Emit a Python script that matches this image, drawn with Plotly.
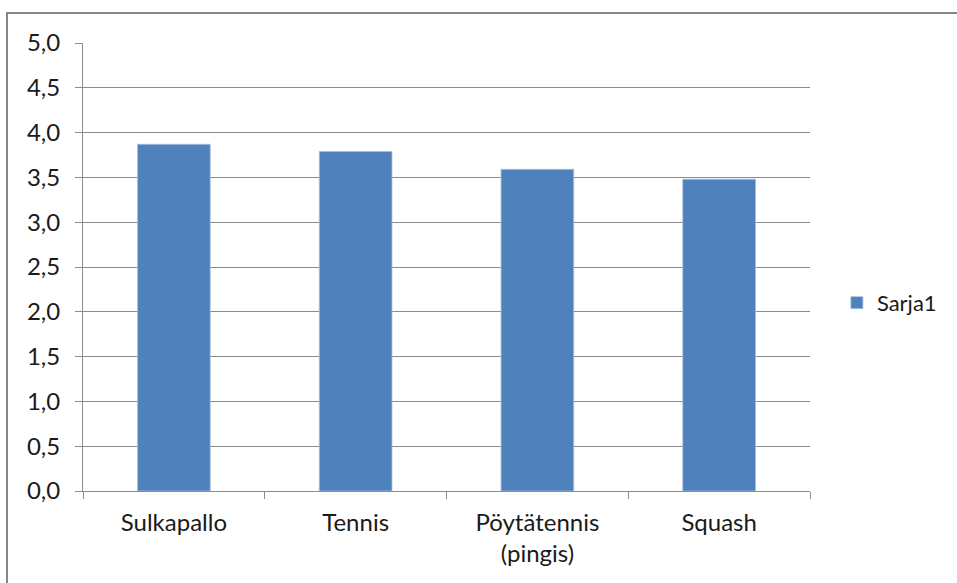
import plotly.graph_objects as go

categories = ["Sulkapallo", "Tennis", "Pöytätennis<br>(pingis)", "Squash"]
values = [3.87, 3.79, 3.59, 3.48]
series_name = "Sarja1"
y_ticks = [0, 0.5, 1, 1.5, 2, 2.5, 3, 3.5, 4, 4.5, 5]

grid_gray = "#8c8c8c"
bar_blue = "#4f81bd"
font_family = "Lato, 'Open Sans', sans-serif"

fig = go.Figure()
fig.add_trace(go.Bar(
    x=categories,
    y=values,
    name=series_name,
    marker=dict(color=bar_blue, line=dict(color="#a7bfdf", width=0.8)),
    showlegend=True,
))

fig.update_layout(
    width=957,
    height=583,
    margin=dict(l=83, r=147, t=43, b=92),
    paper_bgcolor="white",
    plot_bgcolor="white",
    separators=", ",
    bargap=0.6,
    font=dict(family=font_family, size=24, color="#1a1a1a"),
    showlegend=True,
    legend=dict(
        x=1.037, y=0.42, xanchor="left", yanchor="middle",
        font=dict(size=22),
        itemwidth=30,
        bgcolor="rgba(0,0,0,0)",
    ),
    xaxis=dict(
        showgrid=False,
        showline=True,
        linecolor=grid_gray,
        linewidth=1,
        ticks="outside",
        tickson="boundaries",
        ticklen=7,
        tickcolor=grid_gray,
        tickfont=dict(size=24),
        ticklabelstandoff=10,
    ),
    yaxis=dict(
        range=[0, 5],
        tickvals=y_ticks,
        tickformat=".1f",
        showgrid=True,
        gridcolor=grid_gray,
        gridwidth=1,
        showline=True,
        linecolor=grid_gray,
        linewidth=1,
        ticks="outside",
        ticklen=7,
        tickcolor=grid_gray,
        tickfont=dict(size=24),
        ticklabelstandoff=10,
        zeroline=False,
    ),
    shapes=[
        # outer chart frame
        dict(
            type="rect", xref="paper", yref="paper",
            x0=-0.1045, x1=1.3, y0=-0.25, y1=1.067,
            line=dict(color="#868686", width=2),
            fillcolor="rgba(0,0,0,0)",
            layer="below",
        )
    ],
)

fig.write_html("out.html")
